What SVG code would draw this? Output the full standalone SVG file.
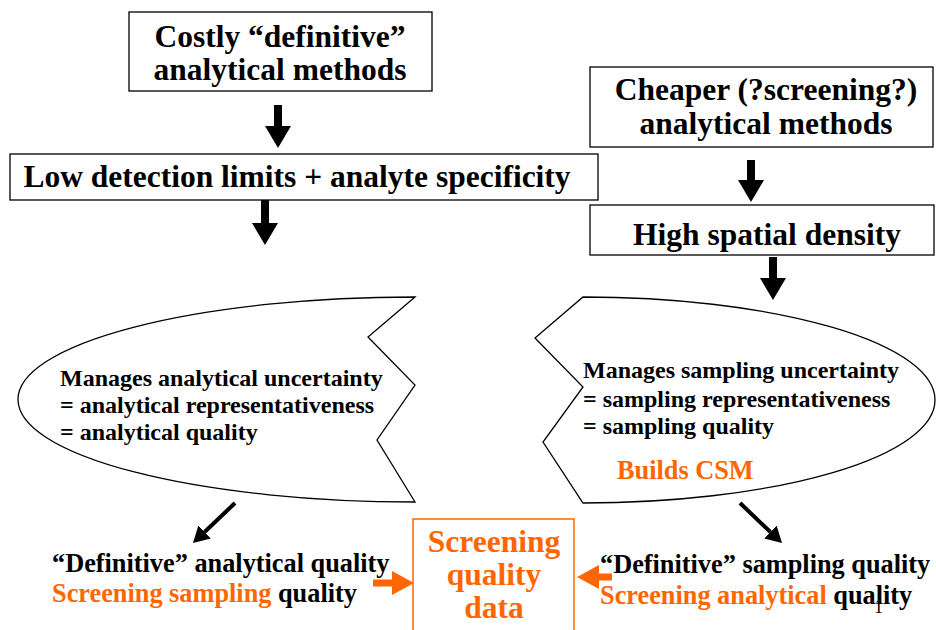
<svg xmlns="http://www.w3.org/2000/svg" width="936" height="630" viewBox="0 0 936 630">
<style>
text { font-family: "Liberation Serif", "Times New Roman", serif; font-weight: bold; fill: #000; }
.box { fill: #fff; stroke: #000; stroke-width: 1.3; }
.h { font-size: 31.5px; text-anchor: middle; }
.e { font-size: 24px; }
.b { font-size: 26.3px; }
.or { fill: #FF6600; }
.shape { fill: #fff; stroke: #000; stroke-width: 1.3; }
.big { stroke: #000; stroke-width: 8; }
.thin { stroke: #000; stroke-width: 4; }
.oa { stroke: #FF6600; stroke-width: 7; }
</style>
<defs>
<marker id="hb" viewBox="0 0 22 26" refX="0" refY="13" markerWidth="22" markerHeight="26" markerUnits="userSpaceOnUse" orient="auto">
<path d="M0,0 L22,13 L0,26 Z" fill="#000"/>
</marker>
<marker id="ht" viewBox="0 0 16 18" refX="0" refY="9" markerWidth="16" markerHeight="18" markerUnits="userSpaceOnUse" orient="auto">
<path d="M0,0 L16,9 L0,18 Z" fill="#000"/>
</marker>
<marker id="ho" viewBox="0 0 22 24" refX="0" refY="12" markerWidth="22" markerHeight="24" markerUnits="userSpaceOnUse" orient="auto">
<path d="M0,0 L22,12 L0,24 Z" fill="#FF6600"/>
</marker>
</defs>

<g id="costly">
<rect class="box" x="129" y="12" width="303" height="79"/>
<text class="h" x="280" y="47">Costly “definitive”</text>
<text class="h" x="280" y="80">analytical methods</text>
</g>

<g id="lowdetection">
<rect class="box" x="10" y="154" width="588" height="46"/>
<text class="h" x="297" y="187">Low detection limits + analyte specificity</text>
</g>

<g id="cheaper">
<rect class="box" x="590" y="67" width="343" height="80"/>
<text class="h" x="766" y="100">Cheaper (?screening?)</text>
<text class="h" x="766" y="134">analytical methods</text>
</g>

<g id="highdensity">
<rect class="box" x="590" y="205" width="344" height="50"/>
<text class="h" x="767" y="245">High spatial density</text>
</g>

<g id="analytical-shape">
<path class="shape" d="M415,297 L368,337 L415,385 L377,440 L415,502 A397,102.5 0 0 1 415,297 Z"/>
<text class="e" x="60" y="386">Manages analytical uncertainty</text>
<text class="e" x="60" y="413">= analytical representativeness</text>
<text class="e" x="60" y="440">= analytical quality</text>
</g>

<g id="sampling-shape">
<path class="shape" d="M583,297 A352,103 0 0 1 583,503 L543,442 L583,387 L535,338 Z"/>
<text class="e" x="583" y="378">Manages sampling uncertainty</text>
<text class="e" x="583" y="407">= sampling representativeness</text>
<text class="e" x="583" y="434">= sampling quality</text>
<text class="b or" x="617" y="479">Builds CSM</text>
</g>

<g id="left-result">
<text class="b" x="52" y="572">“Definitive” analytical quality</text>
<text class="b" x="52" y="602"><tspan class="or">Screening sampling</tspan> quality</text>
</g>

<g id="right-result">
<text class="b" x="600" y="573">“Definitive” sampling quality</text>
<text class="b" x="600" y="604"><tspan class="or">Screening analytical</tspan> quality</text>
</g>

<g id="screening-data">
<rect x="413" y="519" width="161" height="120" fill="#fff" stroke="#FF6600" stroke-width="1.5"/>
<text class="h or" x="494" y="552">Screening</text>
<text class="h or" x="494" y="585">quality</text>
<text class="h or" x="494" y="618">data</text>
</g>

<g id="connectors">
<line class="big" x1="278" y1="105" x2="278" y2="126" marker-end="url(#hb)"/>
<line class="big" x1="265" y1="200" x2="265" y2="223" marker-end="url(#hb)"/>
<line class="big" x1="751" y1="160" x2="751" y2="180" marker-end="url(#hb)"/>
<line class="big" x1="773" y1="257" x2="773" y2="278" marker-end="url(#hb)"/>
<line class="thin" x1="235" y1="503" x2="204.6" y2="532" marker-end="url(#ht)"/>
<line class="thin" x1="740" y1="503" x2="770.4" y2="532" marker-end="url(#ht)"/>
<line class="oa" x1="373" y1="583" x2="392" y2="583" marker-end="url(#ho)"/>
<line class="oa" x1="612" y1="577" x2="599" y2="577" marker-end="url(#ho)"/>
</g>

<text x="874" y="613" font-size="18" style="font-weight:normal" fill="#333">1</text>
</svg>
